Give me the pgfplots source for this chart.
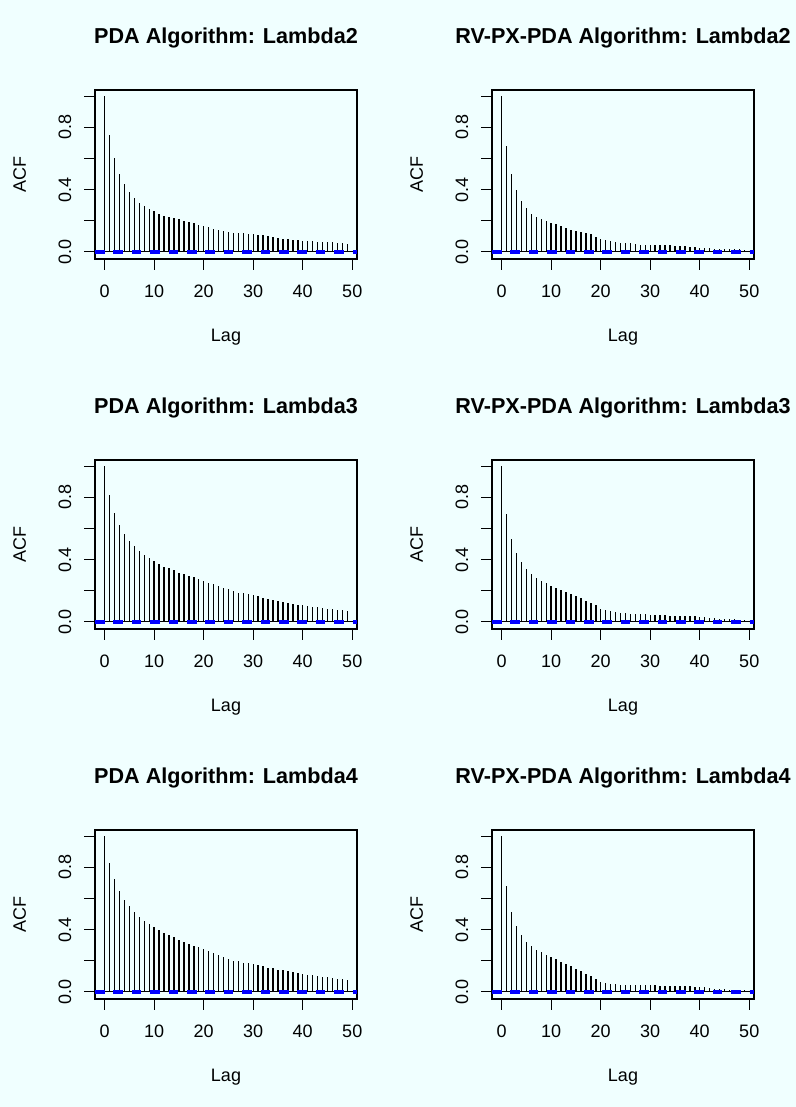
\documentclass[border=0pt]{standalone}
\usepackage{pgfplots}
\pgfplotsset{compat=1.18}
\usepackage{pgfplotstable}
\usepackage{fontspec}
\setmainfont{Liberation Sans}
\definecolor{bgcol}{RGB}{240,255,255}
\definecolor{ciblue}{RGB}{0,0,255}

\pgfplotstableread{
lag acf
0 1.000
1 0.752
2 0.602
3 0.503
4 0.435
5 0.383
6 0.345
7 0.315
8 0.293
9 0.272
10 0.259
11 0.246
12 0.233
13 0.225
14 0.216
15 0.208
16 0.199
17 0.191
18 0.182
19 0.173
20 0.165
21 0.156
22 0.148
23 0.139
24 0.131
25 0.126
26 0.122
27 0.120
28 0.118
29 0.116
30 0.111
31 0.109
32 0.105
33 0.101
34 0.096
35 0.090
36 0.084
37 0.079
38 0.075
39 0.073
40 0.071
41 0.069
42 0.066
43 0.064
44 0.064
45 0.062
46 0.060
47 0.058
48 0.056
49 0.051
}\pdaA

\pgfplotstableread{
lag acf
0 1.000
1 0.679
2 0.503
3 0.396
4 0.328
5 0.281
6 0.246
7 0.223
8 0.208
9 0.195
10 0.184
11 0.176
12 0.165
13 0.152
14 0.143
15 0.135
16 0.126
17 0.120
18 0.113
19 0.096
20 0.084
21 0.075
22 0.069
23 0.062
24 0.058
25 0.056
26 0.054
27 0.049
28 0.045
29 0.043
30 0.041
31 0.041
32 0.041
33 0.041
34 0.041
35 0.039
36 0.039
37 0.036
38 0.032
39 0.030
40 0.026
41 0.024
42 0.021
43 0.019
44 0.017
45 0.017
46 0.015
47 0.015
48 0.015
49 0.013
}\rvA

\pgfplotstableread{
lag acf
0 1.000
1 0.816
2 0.700
3 0.621
4 0.563
5 0.518
6 0.484
7 0.456
8 0.430
9 0.409
10 0.388
11 0.370
12 0.355
13 0.343
14 0.330
15 0.315
16 0.306
17 0.296
18 0.285
19 0.272
20 0.261
21 0.251
22 0.240
23 0.229
24 0.218
25 0.208
26 0.197
27 0.188
28 0.182
29 0.176
30 0.169
31 0.163
32 0.154
33 0.148
34 0.141
35 0.135
36 0.128
37 0.122
38 0.116
39 0.109
40 0.105
41 0.101
42 0.096
43 0.092
44 0.088
45 0.084
46 0.081
47 0.077
48 0.075
49 0.071
}\pdaB

\pgfplotstableread{
lag acf
0 1.000
1 0.696
2 0.533
3 0.443
4 0.383
5 0.340
6 0.306
7 0.281
8 0.263
9 0.248
10 0.231
11 0.216
12 0.203
13 0.191
14 0.178
15 0.165
16 0.152
17 0.133
18 0.120
19 0.105
20 0.084
21 0.073
22 0.066
23 0.060
24 0.056
25 0.054
26 0.051
27 0.051
28 0.049
29 0.047
30 0.045
31 0.045
32 0.043
33 0.041
34 0.039
35 0.039
36 0.036
37 0.036
38 0.036
39 0.034
40 0.032
41 0.030
42 0.026
43 0.021
44 0.019
45 0.017
46 0.017
47 0.015
48 0.013
49 0.011
}\rvB

\pgfplotstableread{
lag acf
0 1.000
1 0.829
2 0.722
3 0.649
4 0.593
5 0.550
6 0.512
7 0.482
8 0.458
9 0.437
10 0.415
11 0.398
12 0.381
13 0.364
14 0.349
15 0.334
16 0.319
17 0.306
18 0.296
19 0.285
20 0.274
21 0.261
22 0.248
23 0.236
24 0.223
25 0.212
26 0.201
27 0.195
28 0.188
29 0.182
30 0.176
31 0.169
32 0.163
33 0.156
34 0.150
35 0.143
36 0.137
37 0.131
38 0.124
39 0.120
40 0.116
41 0.111
42 0.105
43 0.101
44 0.096
45 0.092
46 0.088
47 0.084
48 0.081
49 0.075
}\pdaC

\pgfplotstableread{
lag acf
0 1.000
1 0.679
2 0.516
3 0.422
4 0.364
5 0.323
6 0.293
7 0.270
8 0.255
9 0.238
10 0.223
11 0.208
12 0.193
13 0.178
14 0.163
15 0.148
16 0.133
17 0.116
18 0.099
19 0.079
20 0.062
21 0.056
22 0.051
23 0.047
24 0.043
25 0.041
26 0.041
27 0.041
28 0.041
29 0.041
30 0.041
31 0.041
32 0.039
33 0.039
34 0.039
35 0.036
36 0.036
37 0.034
38 0.034
39 0.032
40 0.030
41 0.028
42 0.024
43 0.019
44 0.017
45 0.015
46 0.013
47 0.013
48 0.011
49 0.009
}\rvC

\pgfplotsset{acf/.style={
  anchor=south west,
  scale only axis, width=262bp, height=169bp,
  xmin=-1.96, xmax=50.96, ymin=-0.0465, ymax=1.0402,
  axis line style={black, line width=1.2bp},
  tick style={black, line width=1.2bp},
  tick align=outside, tick pos=left,
  major tick length=10.8bp,
  xtick={0,10,20,30,40,50}, xticklabels={0,10,20,30,40,50},
  ytick={0,0.2,0.4,0.6,0.8,1.0}, yticklabels={0.0,,0.4,,0.8,},
  /pgf/number format/assume math mode=true,
  ticklabel style={font=\fontsize{18.07}{21}\selectfont},
  xticklabel style={anchor=base},
  xticklabel shift=28bp,
  yticklabel style={rotate=90, anchor=base},
  yticklabel shift=13bp,
  label style={font=\fontsize{18.07}{21}\selectfont},
  xlabel={Lag}, ylabel={ACF},
  xlabel style={at={(axis description cs:0.5,-0.4911)}, anchor=base},
  ylabel style={at={(axis description cs:-0.2634,0.5)}, anchor=base},
  title style={at={(axis description cs:0.5,1.24)}, anchor=base, font=\fontsize{21.68}{26}\selectfont\bfseries},
}}

\newcommand{\acfpanel}[4]{%
  \begin{axis}[acf, at={(#1,#2)}, title={#4}]
    \addplot[ycomb, black, line width=1.45bp, mark=none] table[x=lag, y=acf] {#3};
    \addplot[black, line width=1.2bp, mark=none] coordinates {(-1.96,0) (50.96,0)};
    \addplot[ciblue, line width=1.6bp, mark=none, dash pattern=on 9.5bp off 8.9bp] coordinates {(-1.96,0.0062) (50.96,0.0062)};
    \addplot[ciblue, line width=1.6bp, mark=none, dash pattern=on 9.5bp off 8.9bp] coordinates {(-1.96,-0.0062) (50.96,-0.0062)};
  \end{axis}}

\begin{document}
\begin{tikzpicture}
\useasboundingbox (0,0) rectangle (796bp,1107bp);
\fill[bgcol] (0,0) rectangle (796bp,1107bp);
\acfpanel{95bp}{848bp}{\pdaA}{PDA Algorithm: Lambda2}
\acfpanel{492bp}{848bp}{\rvA}{RV-PX-PDA Algorithm: Lambda2}
\acfpanel{95bp}{478bp}{\pdaB}{PDA Algorithm: Lambda3}
\acfpanel{492bp}{478bp}{\rvB}{RV-PX-PDA Algorithm: Lambda3}
\acfpanel{95bp}{108bp}{\pdaC}{PDA Algorithm: Lambda4}
\acfpanel{492bp}{108bp}{\rvC}{RV-PX-PDA Algorithm: Lambda4}
\end{tikzpicture}
\end{document}
